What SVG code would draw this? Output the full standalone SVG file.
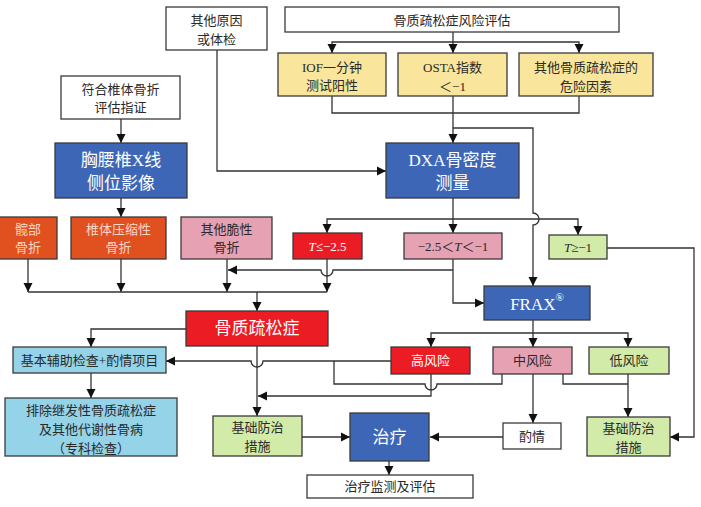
<svg xmlns="http://www.w3.org/2000/svg" width="701" height="507" viewBox="0 0 701 507">
<style>
.b{stroke:#3a3a3a;stroke-width:1.3}
.w{fill:#ffffff}
.y{fill:#F9E59B}
.bl{fill:#3D67B6}
.r{fill:#EC1C24}
.o{fill:#E1511F}
.p{fill:#E6A1B2}
.g{fill:#D2EBA8}
.lb{fill:#94D3E8}
text{font-family:"Liberation Serif","Noto Sans CJK SC",serif;font-size:13px;text-anchor:middle;dominant-baseline:central;fill:#2a2a2a}
.big{font-size:17px;fill:#ffffff}
.wt{fill:#ffffff}
.ot{fill:#F7D6C8}
.c path{fill:none;stroke:#333;stroke-width:1.3}
</style>
<defs>
<marker id="a" markerUnits="userSpaceOnUse" markerWidth="10" markerHeight="10" refX="9" refY="5" orient="auto">
<path d="M0,0.5 L9,5 L0,9.5 z" fill="#111"/>
</marker>
</defs>
<g class="c">
<path d="M453,32 V53" marker-end="url(#a)"/>
<path d="M453,42 H332 V53" marker-end="url(#a)"/>
<path d="M453,42 H579 V53" marker-end="url(#a)"/>
<path d="M332,96 V113 H579 V96"/>
<path d="M453,96 V143" marker-end="url(#a)"/>
<path d="M453,128 H533 V213 a6,6 0 0 1 0,12 V286" marker-end="url(#a)"/>
<path d="M217,50 V171 H386" marker-end="url(#a)"/>
<path d="M121,119 V143" marker-end="url(#a)"/>
<path d="M121,198 V217" marker-end="url(#a)"/>
<path d="M453,198 V233" marker-end="url(#a)"/>
<path d="M453,219 H327 V233" marker-end="url(#a)"/>
<path d="M453,219 H578 V235" marker-end="url(#a)"/>
<path d="M28,259 V292" marker-end="url(#a)"/>
<path d="M121,259 V292" marker-end="url(#a)"/>
<path d="M227,259 V292" marker-end="url(#a)"/>
<path d="M327,259 V292" marker-end="url(#a)"/>
<path d="M28,292 H327"/>
<path d="M257,292 V311" marker-end="url(#a)"/>
<path d="M453,259 V303 H484" marker-end="url(#a)"/>
<path d="M453,270 H333 a6,6 0 0 1 -12,0 H228" marker-end="url(#a)"/>
<path d="M607,248 H694 V437 H670" marker-end="url(#a)"/>
<path d="M533,320 V347" marker-end="url(#a)"/>
<path d="M533,333 H431 V347" marker-end="url(#a)"/>
<path d="M533,333 H628 V347" marker-end="url(#a)"/>
<path d="M186,329 H91 V347" marker-end="url(#a)"/>
<path d="M91,373 V398" marker-end="url(#a)"/>
<path d="M257,346 V416" marker-end="url(#a)"/>
<path d="M391,361 H263 a6,6 0 0 1 -12,0 H166" marker-end="url(#a)"/>
<path d="M502,374 V384 H437 a6,6 0 0 1 -12,0 H334 V361"/>
<path d="M431,374 V396 H258" marker-end="url(#a)"/>
<path d="M563,374 V384 H628"/>
<path d="M628,374 V417" marker-end="url(#a)"/>
<path d="M533,374 V423" marker-end="url(#a)"/>
<path d="M503,437 H430" marker-end="url(#a)"/>
<path d="M302,437 H350" marker-end="url(#a)"/>
<path d="M389,461 V475" marker-end="url(#a)"/>
</g>
<g id="n_other"><rect class="b w" x="166" y="7" width="101" height="43"/><text x="216.5" y="20">其他原因</text><text x="216.5" y="39">或体检</text></g>
<g id="n_risk"><rect class="b w" x="285" y="7" width="334" height="25"/><text x="452" y="20">骨质疏松症风险评估</text></g>
<g id="n_iof"><rect class="b y" x="278" y="53" width="108" height="43"/><text x="332" y="67">IOF一分钟</text><text x="332" y="85">测试阳性</text></g>
<g id="n_osta"><rect class="b y" x="398" y="53" width="109" height="43"/><text x="452.5" y="67">OSTA指数</text><text x="452.5" y="86">＜−1</text></g>
<g id="n_factor"><rect class="b y" x="519" y="53" width="134" height="43"/><text x="586" y="67">其他骨质疏松症的</text><text x="586" y="86">危险因素</text></g>
<g id="n_fit"><rect class="b w" x="61" y="76" width="119" height="43"/><text x="120.5" y="89">符合椎体骨折</text><text x="120.5" y="107">评估指证</text></g>
<g id="n_xray"><rect class="b bl" x="55" y="143" width="132" height="55"/><text class="big" x="121" y="160">胸腰椎X线</text><text class="big" x="121" y="183">侧位影像</text></g>
<g id="n_dxa"><rect class="b bl" x="386" y="143" width="133" height="55"/><text class="big" x="452.5" y="160">DXA骨密度</text><text class="big" x="452.5" y="183">测量</text></g>
<g id="n_hip"><rect class="b o" x="-1" y="217" width="58" height="42"/><text class="ot" x="28" y="229">髋部</text><text class="ot" x="28" y="247">骨折</text></g>
<g id="n_vert"><rect class="b o" x="71" y="217" width="95" height="42"/><text class="ot" x="118.5" y="229">椎体压缩性</text><text class="ot" x="118.5" y="247">骨折</text></g>
<g id="n_fragile"><rect class="b p" x="181" y="217" width="91" height="42"/><text x="226.5" y="229">其他脆性</text><text x="226.5" y="247">骨折</text></g>
<g id="n_tlow"><rect class="b r" x="293" y="233" width="69" height="26"/><text class="wt" x="327.5" y="246"><tspan font-style="italic">T</tspan>≤−2.5</text></g>
<g id="n_tmid"><rect class="b p" x="404" y="233" width="98" height="26"/><text x="453" y="246">−2.5＜<tspan font-style="italic">T</tspan>＜−1</text></g>
<g id="n_thigh"><rect class="b g" x="549" y="235" width="58" height="24"/><text x="578" y="247"><tspan font-style="italic">T</tspan>≥−1</text></g>
<g id="n_frax"><rect class="b bl" x="484" y="286" width="106" height="34"/><text class="big" x="537" y="304">FRAX<tspan font-size="11" dy="-7">®</tspan></text></g>
<g id="n_op"><rect class="b r" x="186" y="311" width="142" height="35"/><text class="big" x="257" y="328">骨质疏松症</text></g>
<g id="n_basic"><rect class="b lb" x="13" y="347" width="153" height="26"/><text x="89.5" y="360">基本辅助检查+酌情项目</text></g>
<g id="n_excl"><rect class="b lb" x="5" y="398" width="172" height="58"/><text x="91" y="410">排除继发性骨质疏松症</text><text x="91" y="429">及其他代谢性骨病</text><text x="91" y="448">（专科检查）</text></g>
<g id="n_high"><rect class="b r" x="391" y="347" width="79" height="27"/><text class="wt" x="430.5" y="360">高风险</text></g>
<g id="n_mid"><rect class="b p" x="493" y="347" width="79" height="27"/><text x="532.5" y="360">中风险</text></g>
<g id="n_low"><rect class="b g" x="589" y="347" width="80" height="27"/><text x="629" y="360">低风险</text></g>
<g id="n_prev1"><rect class="b g" x="213" y="416" width="89" height="40"/><text x="257.5" y="427">基础防治</text><text x="257.5" y="446">措施</text></g>
<g id="n_treat"><rect class="b bl" x="350" y="413" width="79" height="48"/><text class="big" x="389.5" y="437">治疗</text></g>
<g id="n_zq"><rect class="b w" x="503" y="423" width="58" height="26"/><text x="532" y="436">酌情</text></g>
<g id="n_prev2"><rect class="b g" x="587" y="417" width="83" height="39"/><text x="628.5" y="428">基础防治</text><text x="628.5" y="447">措施</text></g>
<g id="n_monitor"><rect class="b w" x="307" y="475" width="166" height="23"/><text x="390" y="486.5">治疗监测及评估</text></g>
</svg>
